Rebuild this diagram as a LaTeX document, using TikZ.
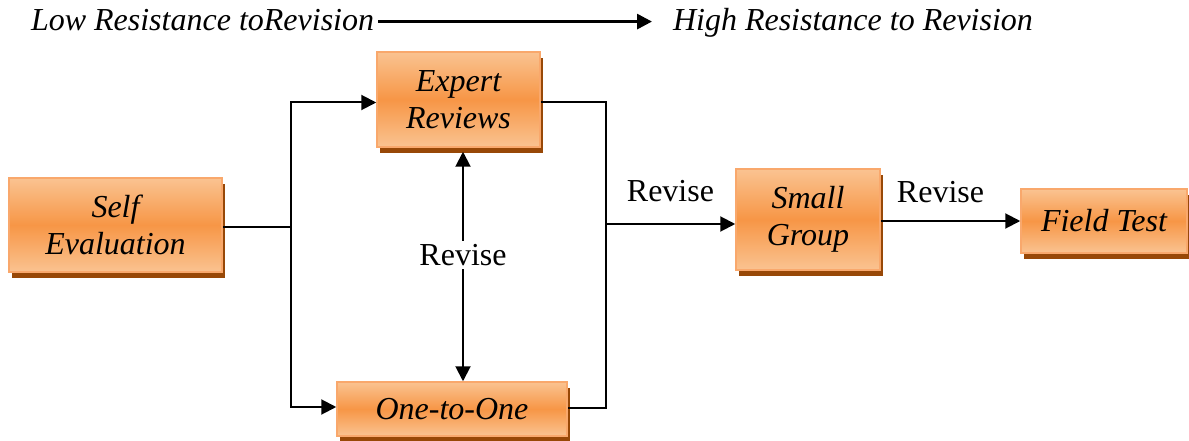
\documentclass[tikz,border=0pt]{standalone}
\usepackage{fontspec}
\setmainfont{Liberation Serif}
\usetikzlibrary{arrows.meta,shadows}
\definecolor{stagelight}{HTML}{FAC391}
\definecolor{stagemid}{HTML}{F79646}
\definecolor{stageborder}{HTML}{F9A86C}
\definecolor{stageshadow}{HTML}{984807}

\begin{document}
\begin{tikzpicture}[x=1pt,y=-1pt,>={Triangle[length=15pt,width=15pt]},line width=2pt,
  stage/.style={draw=stageborder,line width=1.5pt,top color=stagelight,bottom color=stagelight,middle color=stagemid,
    drop shadow={shadow xshift=3pt,shadow yshift=-6pt,fill=stageshadow,opacity=1},
    align=center,inner sep=0pt,font=\itshape\fontsize{32}{37}\selectfont},
  revise/.style={inner sep=0pt,font=\fontsize{32}{37}\selectfont},
  hint/.style={inner sep=0pt,font=\itshape\fontsize{32}{37}\selectfont}]

            \useasboundingbox (0,0) rectangle (1189,441);

            % stages
            \node[stage, minimum width=213pt, minimum height=94pt] (self) at (115.5,225) {Self\\Evaluation};
            \node[stage, minimum width=163pt, minimum height=95pt] (expert) at (458.5,99.5) {Expert\\Reviews};
            \node[stage, minimum width=230pt, minimum height=54pt] (one) at (452,409) {One-to-One};
            \node[stage, minimum width=144pt, minimum height=101pt] (small) at (808,219.5) {Small\\Group};
            \node[stage, minimum width=166pt, minimum height=64pt] (field) at (1104,221) {Field Test};

            % resistance scale
            \node[hint, anchor=base west] (low) at (30,31) {Low Resistance toRevision};
            \node[hint, anchor=base west] (high) at (672,31) {High Resistance to Revision};
            \draw[->, line width=3pt] ([xshift=3pt,yshift=-1pt]low.east) -- ([xshift=-20pt,yshift=-1pt]low.east -| high.west);

            % connectors
            \coordinate (split) at (290.7,226.7);
            \coordinate (merge) at (605.7,224);

            \draw[-] (self.east |- split) -- (split);
            \draw[->] (split) |- ([yshift=-3pt]expert.west);
            \draw[->] (split) |- ([yshift=2pt]one.west);
            \draw[-] ([yshift=-3pt]expert.east) -| (merge) |- ([yshift=1pt]one.east);
            \draw[->] (merge) -- node[revise, above=21pt] {Revise} (merge -| small.west);
            \draw[->] (small.east |- field.west) -- node[revise, above=17pt, xshift=-10pt] {Revise} (field.west);
            \draw[<->] ([xshift=4.5pt,yshift=-4pt]expert.south) -- node[revise, pos=.45, fill=white, inner sep=3pt] {Revise} ([xshift=4.5pt]expert.south |- one.north);

            ;
        \end{tikzpicture}
\end{document}
